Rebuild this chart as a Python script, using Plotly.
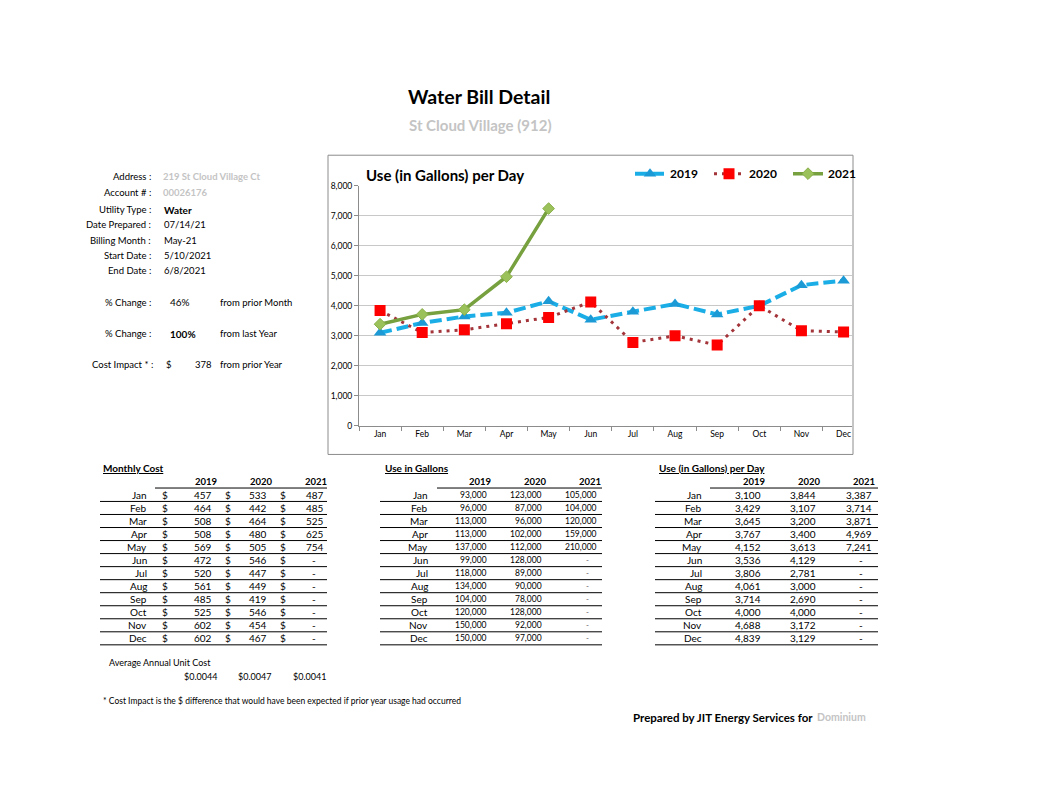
import plotly.graph_objects as go

PAGE_W, PAGE_H = 1052, 812
OFF = 8  # default page body margin
W, H = PAGE_W - OFF, PAGE_H - OFF
FONT = "Lato"

months = ["Jan", "Feb", "Mar", "Apr", "May", "Jun", "Jul", "Aug", "Sep", "Oct", "Nov", "Dec"]
years = ["2019", "2020", "2021"]

cost_2019 = [457, 464, 508, 508, 569, 472, 520, 561, 485, 525, 602, 602]
cost_2020 = [533, 442, 464, 480, 505, 546, 447, 449, 419, 546, 454, 467]
cost_2021 = [487, 485, 525, 625, 754, None, None, None, None, None, None, None]

gal_2019 = [93000, 96000, 113000, 113000, 137000, 99000, 118000, 134000, 104000, 120000, 150000, 150000]
gal_2020 = [123000, 87000, 96000, 102000, 112000, 128000, 89000, 90000, 78000, 128000, 92000, 97000]
gal_2021 = [105000, 104000, 120000, 159000, 210000, None, None, None, None, None, None, None]

day_2019 = [3100, 3429, 3645, 3767, 4152, 3536, 3806, 4061, 3714, 4000, 4688, 4839]
day_2020 = [3844, 3107, 3200, 3400, 3613, 4129, 2781, 3000, 2690, 4000, 3172, 3129]
day_2021 = [3387, 3714, 3871, 4969, 7241, None, None, None, None, None, None, None]

avg_unit_cost = ["$0.0044", "$0.0047", "$0.0041"]

info_labels = ["Address :", "Account # :", "Utility Type :", "Date Prepared :", "Billing Month :",
               "Start Date :", "End Date :"]
info_values = ["219 St Cloud Village Ct", "00026176", "Water", "07/14/21", "May-21", "5/10/2021", "6/8/2021"]

fig = go.Figure()

fig.add_trace(go.Scatter(
    x=months, y=day_2019, name="2019", mode="lines+markers",
    line=dict(color="#1BAEE6", width=4, dash="12px,5px"),
    marker=dict(symbol="triangle-up", size=11, color="#1B9AD6"),
))
fig.add_trace(go.Scatter(
    x=months, y=day_2020, name="2020", mode="lines+markers",
    line=dict(color="#A3343A", width=3, dash="3px,5px"),
    marker=dict(symbol="square", size=11, color="#FF0000"),
))
fig.add_trace(go.Scatter(
    x=months, y=day_2021, name="2021", mode="lines+markers",
    line=dict(color="#77A03E", width=3.5),
    marker=dict(symbol="diamond", size=9, color="#9BC15A", line=dict(color="#8AB04A", width=1)),
))

def px(x):
    return (x - OFF) / W

def py(y):
    return 1 - (y - OFF) / H

annotations = []

def txt(x, y, s, size=9, anchor="left", bold=False, color="#000000", vanchor="middle"):
    if bold:
        s = "<b>" + s + "</b>"
    annotations.append(dict(
        x=px(x), y=py(y), xref="paper", yref="paper", text=s, showarrow=False,
        xanchor=anchor, yanchor=vanchor, font=dict(family=FONT, size=size, color=color),
        borderpad=0,
    ))

shapes = []

def hline(x0, x1, y, color="#000000", width=1):
    shapes.append(dict(type="line", xref="paper", yref="paper",
                       x0=px(x0), x1=px(x1), y0=py(y), y1=py(y),
                       line=dict(color=color, width=width)))

# Titles
txt(479, 93, "Water Bill Detail", size=19.5, anchor="center", bold=True)
txt(480, 121, "St Cloud Village (912)", size=15, anchor="center", bold=True, color="#C4C4C4")

# Info panel
info_y = [174, 190, 207, 222, 238, 254, 269]
for lab, val, yy in zip(info_labels, info_values, info_y):
    txt(152, yy, lab, size=9.5, anchor="right")
    if lab.startswith("Address") or lab.startswith("Account"):
        txt(162, yy, val, size=9.5, anchor="left", bold=True, color="#C4C4C4")
    elif lab.startswith("Utility"):
        txt(163, yy, val, size=10, anchor="left", bold=True)
    else:
        txt(163, yy, val, size=9.5, anchor="left")

txt(152, 301, "% Change :", size=9.5, anchor="right")
txt(169, 301, "46%", size=10, anchor="left")
txt(219, 301, "from prior Month", size=9.5, anchor="left")
txt(152, 333, "% Change :", size=9.5, anchor="right")
txt(169, 333, "100%", size=10, anchor="left", bold=True)
txt(219, 333, "from last Year", size=9.5, anchor="left")
txt(154, 364, "Cost Impact * :", size=9.5, anchor="right")
txt(165, 364, "$", size=9.5, anchor="left")
txt(213, 364, "378", size=9.5, anchor="right")
txt(219, 364, "from prior Year", size=9.5, anchor="left")

# Chart box
shapes.append(dict(type="rect", xref="paper", yref="paper", x0=px(328), x1=px(853), y0=py(455), y1=py(152),
                   line=dict(color="#8C8C8C", width=1), fillcolor="rgba(0,0,0,0)", layer="below"))
txt(365, 172, "Use (in Gallons) per Day", size=15, anchor="left", bold=True)

# Tables
row_y0 = 496
row_step = 13.2
rows_y = [row_y0 + i * row_step for i in range(12)]

def fmt(v):
    return "-" if v is None else f"{v:,}"

# Monthly cost
txt(102, 469, "<u>Monthly Cost</u>", size=10, anchor="left", bold=True)
for yr, xx in zip(years, [206, 261, 316]):
    txt(xx, 482, yr, size=9.5, anchor="center", bold=True)
hline(155, 327, 489)
for i, yy in enumerate(rows_y):
    txt(148, yy, months[i], size=10, anchor="right")
    for dx, vals, rx in [(161, cost_2019, 213), (224, cost_2020, 268), (279, cost_2021, 325)]:
        txt(dx, yy, "$", size=10, anchor="left")
        v = vals[i]
        if v is None:
            txt(rx - 8, yy, "-", size=10, anchor="right")
        else:
            txt(rx, yy, fmt(v), size=10, anchor="right")
    hline(100, 327, yy + 6.6)

# Use in gallons
txt(384, 469, "<u>Use in Gallons</u>", size=10, anchor="left", bold=True)
for yr, xx in zip(years, [480, 535, 590]):
    txt(xx, 482, yr, size=9.5, anchor="center", bold=True)
hline(437, 602, 489)
for i, yy in enumerate(rows_y):
    txt(429, yy, months[i], size=10, anchor="right")
    for vals, rx in [(gal_2019, 488), (gal_2020, 543), (gal_2021, 598)]:
        v = vals[i]
        if v is None:
            txt(rx - 8, yy, "-", size=8, anchor="right", color="#555555")
        else:
            txt(rx, yy, fmt(v), size=8.5, anchor="right")
    hline(380, 602, yy + 6.6)

# Use per day
txt(658, 469, "<u>Use (in Gallons) per Day</u>", size=10, anchor="left", bold=True)
for yr, xx in zip(years, [754, 809, 864]):
    txt(xx, 482, yr, size=9.5, anchor="center", bold=True)
hline(710, 878, 489)
for i, yy in enumerate(rows_y):
    txt(703, yy, months[i], size=10, anchor="right")
    for vals, rx in [(day_2019, 762), (day_2020, 817), (day_2021, 873)]:
        v = vals[i]
        if v is None:
            txt(rx - 9, yy, "-", size=10, anchor="right")
        else:
            txt(rx, yy, fmt(v), size=10, anchor="right")
    hline(655, 878, yy + 6.6)

# Average unit cost
txt(108, 666, "Average Annual Unit Cost", size=9, anchor="left")
for s, xx in zip(avg_unit_cost, [183, 237, 292]):
    txt(xx, 680, s, size=9, anchor="left")

txt(102, 705, "* Cost Impact is the $ difference that would have been expected if prior year usage had occurred",
    size=8.5, anchor="left")
txt(814, 721, "Prepared by JIT Energy Services for", size=11.5, anchor="right", bold=True)
txt(816, 721, "Dominium", size=10.5, anchor="left", bold=True, color="#C4C4C4")

fig.update_layout(
    width=W, height=H,
    margin=dict(l=0, r=0, t=0, b=0),
    paper_bgcolor="#FFFFFF", plot_bgcolor="#FFFFFF",
    font=dict(family=FONT, size=8, color="#000000"),
    showlegend=True,
    legend=dict(orientation="h", x=px(630), y=py(156), xanchor="left", yanchor="top",
                font=dict(family=FONT, size=12, color="#000000", weight="bold"),
                bgcolor="rgba(0,0,0,0)", itemwidth=30, tracegroupgap=0,
                entrywidth=34),
    xaxis=dict(domain=[px(359), px(852)], type="category", range=[-0.5, 11.2],
               showgrid=False, showline=True, linecolor="#8C8C8C", linewidth=1,
               ticks="outside", tickson="boundaries", ticklen=4, tickcolor="#8C8C8C",
               tickfont=dict(family=FONT, size=8.5), zeroline=False, fixedrange=True),
    yaxis=dict(domain=[py(426), py(183)], range=[0, 8000], dtick=1000, tickformat=",",
               showgrid=True, gridcolor="#C8C8C8", gridwidth=1,
               showline=True, linecolor="#8C8C8C", linewidth=1,
               ticks="outside", ticklen=4, tickcolor="#8C8C8C",
               tickfont=dict(family=FONT, size=8.5), zeroline=False),
    annotations=annotations,
    shapes=shapes,
)

fig.write_html("out.html")
